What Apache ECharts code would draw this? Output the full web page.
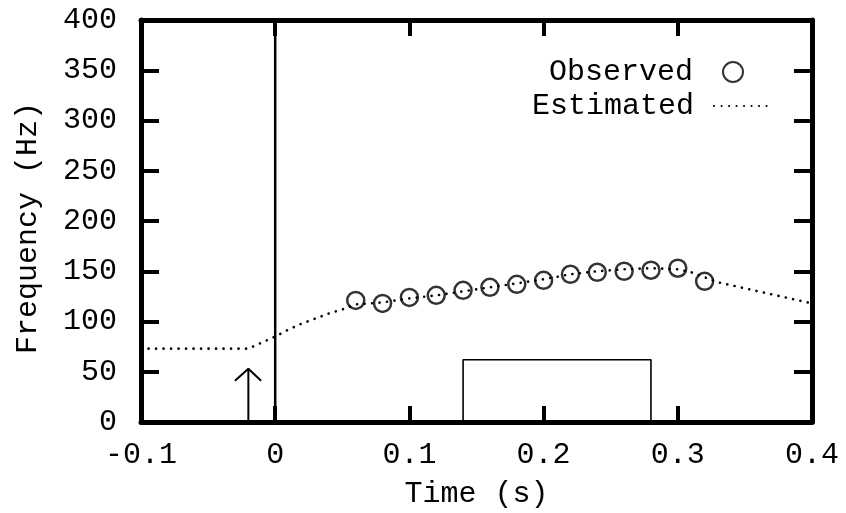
<!DOCTYPE html>
<html><head><meta charset="utf-8">
<script src="https://cdn.jsdelivr.net/npm/echarts@6/dist/echarts.min.js"></script>
<style>html,body{margin:0;padding:0;background:#fff}#c{width:846px;height:513px}</style>
</head><body><div id="c"></div>
<script>
const xTickLabels = ['-0.1', '0', '0.1', '0.2', '0.3', '0.4'];
const yTickLabels = ['0', '50', '100', '150', '200', '250', '300', '350', '400'];

const obsTime = [0.06, 0.08, 0.10, 0.12, 0.14, 0.16, 0.18, 0.20, 0.22, 0.24, 0.26, 0.28, 0.30, 0.32];
const obsFreq = [121, 118, 124, 126, 131, 134, 137, 141, 147, 149, 150, 151, 153, 140];

const estTime = [-0.10, -0.02, -0.01, 0.00, 0.01, 0.02, 0.04, 0.05, 0.06, 0.08, 0.10, 0.12, 0.14, 0.16, 0.18, 0.20, 0.22, 0.24, 0.26, 0.28, 0.30, 0.31, 0.32, 0.33, 0.36, 0.38, 0.40];
const estFreq = [73, 73, 79, 85, 92, 98, 108, 112, 117, 119, 123, 126, 130, 134, 138, 142, 147, 150, 152, 153, 152, 149, 144, 139, 130, 124, 118];

const onsetTime = [0, 0];
const onsetFreq = [0, 400];
const arrowShaftTime = [-0.02, -0.02];
const arrowShaftFreq = [0, 53];
const arrowHeadTime = [-0.030, -0.02, -0.0105];
const arrowHeadFreq = [41, 53, 41];
const boxTime = [0.14, 0.14, 0.28, 0.28];
const boxFreq = [0, 62, 62, 0];

const zip = (a, b) => a.map((v, i) => [v, b[i]]);
const FONT = "'Liberation Mono', monospace";

const axisLine = { show: true, onZero: false, lineStyle: { color: '#000', width: 5 } };
const tickStyle = (len) => ({ show: true, inside: true, length: len, lineStyle: { color: '#000', width: 4 } });

const chart = echarts.init(document.getElementById('c'), null, { renderer: 'canvas' });
chart.setOption({
  backgroundColor: '#fff',
  animation: false,
  grid: { left: 141, right: 34, top: 20, bottom: 91, containLabel: false, outerBoundsMode: 'none' },
  legend: [
    {
      data: ['Observed'], right: 102, top: 57, padding: 0, orient: 'vertical',
      itemWidth: 36, itemHeight: 20, align: 'right', selectedMode: false,
      textStyle: { fontSize: 30, fontFamily: FONT, color: '#000', padding: [0, 17, 0, 0] }
    },
    {
      data: ['Estimated'], right: 71, top: 91, padding: 0, orient: 'vertical',
      itemWidth: 60, itemHeight: 20, align: 'right', selectedMode: false,
      itemStyle: { color: 'rgba(0,0,0,0)', borderColor: 'rgba(0,0,0,0)', borderWidth: 0 },
      textStyle: { fontSize: 30, fontFamily: FONT, color: '#000', padding: [0, 15, 0, 0] }
    }
  ],
  xAxis: [
    {
      type: 'value', min: -0.1, max: 0.4, interval: 0.1, position: 'bottom',
      axisLine: axisLine, axisTick: tickStyle(16), splitLine: { show: false },
      axisLabel: { margin: 18, fontSize: 30, fontFamily: FONT, color: '#000',
        formatter: (v, i) => xTickLabels[i] },
      name: 'Time (s)', nameLocation: 'middle', nameGap: 57,
      nameTextStyle: { fontSize: 30, fontFamily: FONT, color: '#000' }
    },
    {
      type: 'value', min: -0.1, max: 0.4, interval: 0.1, position: 'top',
      axisLine: axisLine, axisTick: tickStyle(16), splitLine: { show: false },
      axisLabel: { show: false }
    }
  ],
  yAxis: [
    {
      type: 'value', min: 0, max: 400, interval: 50, position: 'left',
      axisLine: axisLine, axisTick: tickStyle(18), splitLine: { show: false },
      axisLabel: { margin: 24, fontSize: 30, fontFamily: FONT, color: '#000',
        formatter: (v, i) => yTickLabels[i] },
      name: 'Frequency (Hz)', nameLocation: 'middle', nameGap: 98,
      nameTextStyle: { fontSize: 30, fontFamily: FONT, color: '#000', padding: [0, 14, 0, 0] }
    },
    {
      type: 'value', min: 0, max: 400, interval: 50, position: 'right',
      axisLine: axisLine, axisTick: tickStyle(18), splitLine: { show: false },
      axisLabel: { show: false }
    }
  ],
  series: [
    {
      name: 'Estimated', type: 'line', data: zip(estTime, estFreq), symbol: 'none', z: 2,
      lineStyle: { color: '#000', width: 2.6, type: [0.1, 7.4], cap: 'round' },
      itemStyle: { color: '#000' }
    },
    {
      name: 'Observed', type: 'scatter', data: zip(obsTime, obsFreq), symbol: 'circle', symbolSize: 17, z: 3,
      itemStyle: { color: 'rgba(0,0,0,0)', borderColor: '#000', borderWidth: 2.5 }
    },
    {
      name: 'onset', type: 'line', data: zip(onsetTime, onsetFreq), symbol: 'none', silent: true,
      lineStyle: { color: '#000', width: 2.5 }
    },
    {
      name: 'arrowShaft', type: 'line', data: zip(arrowShaftTime, arrowShaftFreq), symbol: 'none', silent: true,
      lineStyle: { color: '#000', width: 2 }
    },
    {
      name: 'arrowHead', type: 'line', data: zip(arrowHeadTime, arrowHeadFreq), symbol: 'none', silent: true,
      lineStyle: { color: '#000', width: 2 }
    },
    {
      name: 'box', type: 'line', data: zip(boxTime, boxFreq), symbol: 'none', silent: true,
      lineStyle: { color: '#000', width: 1.6 }
    }
  ]
});
</script>
</body></html>
